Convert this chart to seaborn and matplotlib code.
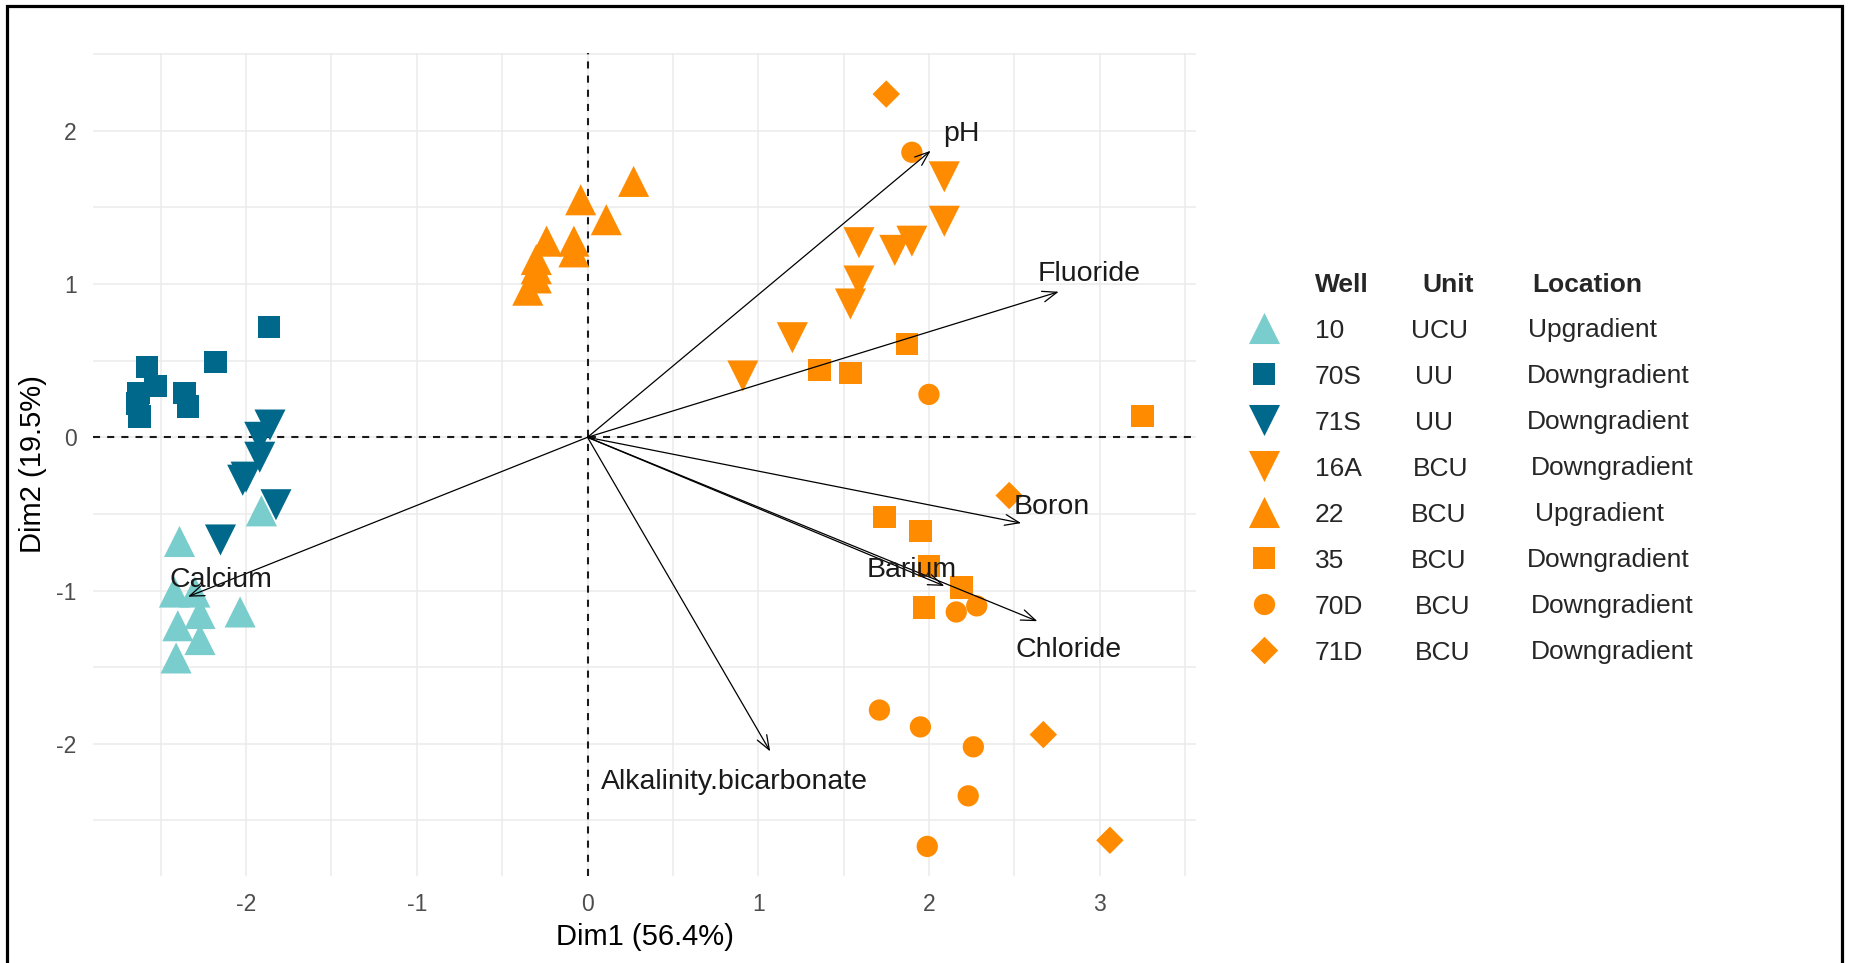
import matplotlib
matplotlib.use("Agg")
import matplotlib.pyplot as plt
import numpy as np
import pandas as pd
import seaborn as sns
from matplotlib.patches import Rectangle

# ---------------- PCA individual scores (Dim1, Dim2) by well ----------------
dim1_w10 = [-1.91, -2.39, -2.42, -2.30, -2.27, -2.035, -2.40, -2.27, -2.41]
dim2_w10 = [-0.48, -0.68, -1.01, -1.01, -1.15, -1.14, -1.23, -1.32, -1.44]
dim1_w16a = [2.09, 2.09, 1.59, 1.80, 1.90, 1.59, 1.54, 1.20, 0.91]
dim2_w16a = [1.70, 1.41, 1.27, 1.22, 1.28, 1.02, 0.87, 0.65, 0.40]
dim1_w22 = [0.27, -0.04, 0.11, -0.24, -0.08, -0.08, -0.30, -0.30, -0.30, -0.35]
dim2_w22 = [1.67, 1.55, 1.42, 1.28, 1.28, 1.21, 1.16, 1.10, 1.04, 0.96]
dim1_w35 = [1.87, 1.36, 1.54, 3.25, 1.74, 1.95, 2.00, 2.19, 1.97]
dim2_w35 = [0.61, 0.44, 0.42, 0.14, -0.52, -0.61, -0.84, -0.98, -1.11]
dim1_w70d = [1.90, 2.00, 2.16, 2.28, 1.71, 1.95, 2.26, 2.23, 1.99]
dim2_w70d = [1.86, 0.28, -1.14, -1.10, -1.78, -1.89, -2.02, -2.34, -2.67]
dim1_w70s = [-1.865, -2.18, -2.58, -2.53, -2.63, -2.635, -2.625, -2.36, -2.34]
dim2_w70s = [0.72, 0.49, 0.46, 0.335, 0.29, 0.22, 0.135, 0.29, 0.20]
dim1_w71d = [1.75, 2.47, 2.67, 3.06]
dim2_w71d = [2.24, -0.38, -1.94, -2.63]
dim1_w71s = [-1.86, -1.92, -1.92, -2.00, -2.02, -1.825, -2.15]
dim2_w71s = [0.08, 0.0, -0.13, -0.26, -0.28, -0.44, -0.67]

# ---------------- variable loadings (arrows) ----------------
var_names = ["pH", "Fluoride", "Boron", "Barium", "Chloride",
             "Alkalinity.bicarbonate", "Calcium"]
var_dim1 = [2.01, 2.76, 2.54, 2.09, 2.635, 1.07, -2.34]
var_dim2 = [1.87, 0.95, -0.56, -0.97, -1.20, -2.05, -1.04]
label_dim1 = [2.19, 2.94, 2.72, 1.90, 2.82, 0.86, -2.15]
label_dim2 = [2.00, 1.087, -0.435, -0.846, -1.37, -2.23, -0.912]

# ---------------- legend table ----------------
legend_wells = ["10", "70S", "71S", "16A", "22", "35", "70D", "71D"]
legend_units = ["UCU", "UU", "UU", "BCU", "BCU", "BCU", "BCU", "BCU"]
legend_locations = ["Upgradient", "Downgradient", "Downgradient", "Downgradient",
                    "Upgradient", "Downgradient", "Downgradient", "Downgradient"]

TEAL = "#79CDCD"
NAVY = "#00688B"
ORANGE = "#FF8C00"
well_colors = {"10": TEAL, "70S": NAVY, "71S": NAVY, "16A": ORANGE,
               "22": ORANGE, "35": ORANGE, "70D": ORANGE, "71D": ORANGE}
well_markers = {"10": "^", "70S": "s", "71S": "v", "16A": "v",
                "22": "^", "35": "s", "70D": "o", "71D": "D"}
well_sizes = {"10": 500, "70S": 260, "71S": 500, "16A": 500,
              "22": 500, "35": 260, "70D": 235, "71D": 195}

scores = {
    "10": (dim1_w10, dim2_w10), "16A": (dim1_w16a, dim2_w16a),
    "22": (dim1_w22, dim2_w22), "35": (dim1_w35, dim2_w35),
    "70D": (dim1_w70d, dim2_w70d), "70S": (dim1_w70s, dim2_w70s),
    "71D": (dim1_w71d, dim2_w71d), "71S": (dim1_w71s, dim2_w71s),
}
df = pd.concat(
    [pd.DataFrame({"Dim1": xs, "Dim2": ys, "Well": w}) for w, (xs, ys) in scores.items()],
    ignore_index=True,
)

sns.set_style("white")
plt.rcParams["font.family"] = ["Liberation Sans", "DejaVu Sans"]
plt.rcParams["axes.unicode_minus"] = False

W, H = 1851, 963
fig = plt.figure(figsize=(W / 100, H / 100), dpi=100)
fig.patch.set_facecolor("white")

# panel placement in pixels
pl, pr, pt, pb = 93.3, 1195.6, 52.7, 876.0
ax = fig.add_axes([pl / W, 1 - pb / H, (pr - pl) / W, (pb - pt) / H])

sns.scatterplot(data=df, x="Dim1", y="Dim2", hue="Well", style="Well", size="Well",
                palette=well_colors, markers=well_markers, sizes=well_sizes,
                linewidth=0, edgecolor="none", legend=False, ax=ax, zorder=3)

ax.set_xlim(-2.895, 3.562)
ax.set_ylim(-2.863, 2.51)
ax.set_xticks([-2, -1, 0, 1, 2, 3])
ax.set_yticks([-2, -1, 0, 1, 2])
ax.set_xticks(np.arange(-2.5, 3.6, 1.0), minor=True)
ax.set_yticks(np.arange(-2.5, 2.6, 1.0), minor=True)
ax.grid(which="both", color="#EBEBEB", lw=1.1)
ax.set_axisbelow(True)
for s in ax.spines.values():
    s.set_visible(False)
ax.tick_params(which="major", direction="out", length=5, width=1.1,
               color="#333333", labelsize=16.5, labelcolor="#4D4D4D", pad=7)
ax.tick_params(which="minor", length=0)

ax.axhline(0, color="#1A1A1A", lw=1.5, ls=(0, (3.4, 3.4)), zorder=2)
ax.axvline(0, color="#1A1A1A", lw=1.5, ls=(0, (3.4, 3.4)), zorder=2)

ax.set_xlabel("Dim1 (56.4%)", fontsize=21, color="black")
ax.set_ylabel("Dim2 (19.5%)", fontsize=21, color="black")
ax.xaxis.label.set_va("center")
ax.yaxis.label.set_va("center")
ax.xaxis.set_label_coords(0.5, (pb - 937) / (pb - pt))
ax.yaxis.set_label_coords((33 - pl) / (pr - pl), 0.5)

# loading arrows and their labels
for name, vx, vy, lx, ly in zip(var_names, var_dim1, var_dim2, label_dim1, label_dim2):
    ax.annotate("", xy=(vx, vy), xytext=(0, 0),
                arrowprops=dict(arrowstyle="->,head_length=0.8,head_width=0.3",
                                color="black", lw=0.9, shrinkA=0, shrinkB=0,
                                mutation_scale=13),
                zorder=4)
    ax.annotate(name, xy=(lx, ly), xytext=(0, -7.3), textcoords="offset points",
                ha="center", va="baseline", fontsize=20.5, color="#1A1A1A", zorder=5)

# legend table drawn in pixel space
lax = fig.add_axes([0, 0, 1, 1])
lax.set_xlim(0, W)
lax.set_ylim(H, 0)
lax.axis("off")
lax.patch.set_alpha(0)

header_y = 282
row_gap = 46.0
cap_half = 9.5
marker_x = 1264
well_x = 1315
unit_x = [1411, 1415, 1415, 1413, 1411, 1411, 1415, 1415]
loc_x = [1528, 1527, 1527, 1531, 1535, 1527, 1531, 1531]

lax.text(well_x, header_y + cap_half, "Well", fontsize=19, fontweight="bold", va="baseline")
lax.text(1422, header_y + cap_half, "Unit", fontsize=19, fontweight="bold", va="baseline")
lax.text(1532, header_y + cap_half, "Location", fontsize=19, fontweight="bold", va="baseline")

for i, (w, u, loc) in enumerate(zip(legend_wells, legend_units, legend_locations)):
    ry = header_y + row_gap * (i + 1)
    lax.scatter([marker_x], [ry], marker=well_markers[w], s=well_sizes[w],
                color=well_colors[w], linewidths=0)
    lax.text(well_x, ry + cap_half, w, fontsize=19, va="baseline")
    lax.text(unit_x[i], ry + cap_half, u, fontsize=19, va="baseline")
    lax.text(loc_x[i], ry + cap_half, loc, fontsize=19, va="baseline")

# outer frame
fig.add_artist(Rectangle((7 / W, -0.05), (1842 - 7) / W, 1.05 - 6 / H,
                         transform=fig.transFigure, fill=False,
                         edgecolor="black", lw=2.3))

fig.savefig("out.png", dpi=100, facecolor="white")
